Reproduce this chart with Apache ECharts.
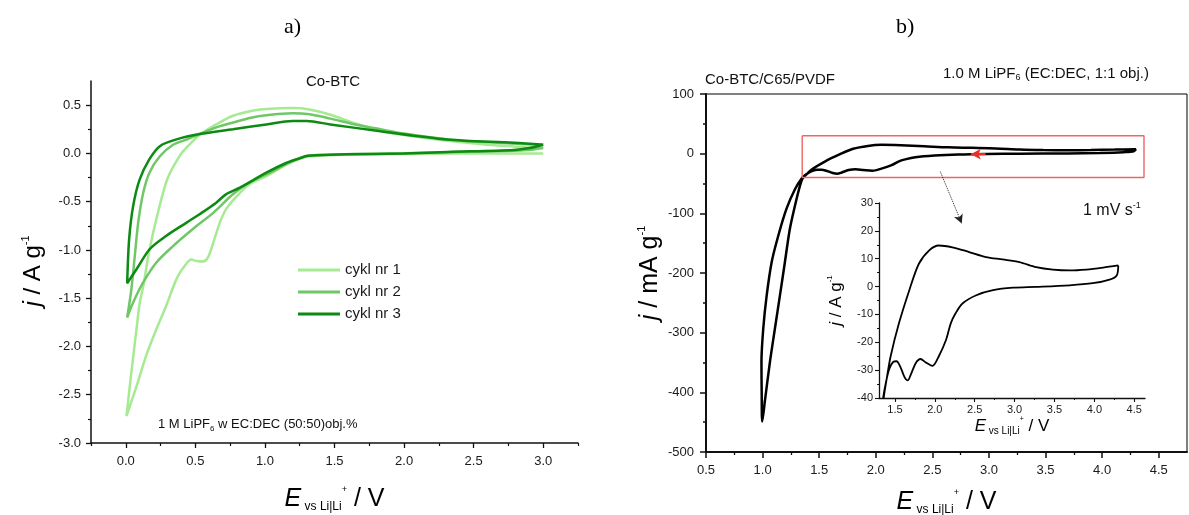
<!DOCTYPE html>
<html><head><meta charset="utf-8">
<script src="https://cdn.jsdelivr.net/npm/echarts@6/dist/echarts.min.js"></script>
<style>html,body{margin:0;padding:0;background:#fff}#c{width:1189px;height:515px}</style>
</head><body><div id="c"></div>
<script>
// ---------- Panel a) : Co-BTC, three CV cycles (E / V, j / A g-1) ----------
const cycle1E = [3.0, 2.6, 2.2, 1.8, 1.55, 1.42, 1.30, 1.156, 1.01, 0.89, 0.80, 0.72, 0.676, 0.63, 0.59, 0.555, 0.51, 0.47, 0.424, 0.365, 0.29, 0.22, 0.15, 0.08, 0.005, 0.04, 0.077, 0.10, 0.125, 0.17, 0.23, 0.30, 0.39, 0.45, 0.53, 0.65, 0.77, 0.90, 1.01, 1.2, 1.32, 1.47, 1.65, 1.83, 2.0, 2.31, 2.6, 2.8, 3.0];
const cycle1J = [0.0, 0.0, -0.003, -0.008, -0.015, -0.022, -0.035, -0.114, -0.235, -0.32, -0.44, -0.58, -0.717, -0.92, -1.08, -1.12, -1.115, -1.10, -1.165, -1.30, -1.58, -1.82, -2.08, -2.40, -2.72, -2.27, -1.82, -1.55, -1.38, -1.0, -0.62, -0.26, -0.02, 0.08, 0.19, 0.30, 0.39, 0.44, 0.46, 0.47, 0.455, 0.40, 0.31, 0.235, 0.19, 0.13, 0.09, 0.07, 0.05];
const cycle2E = [3.0, 2.9, 2.6, 2.2, 1.8, 1.5, 1.32, 1.20, 1.06, 0.89, 0.77, 0.63, 0.48, 0.34, 0.22, 0.125, 0.053, 0.01, 0.04, 0.065, 0.089, 0.125, 0.17, 0.245, 0.34, 0.44, 0.53, 0.65, 0.77, 0.90, 1.01, 1.2, 1.32, 1.47, 1.65, 1.83, 2.0, 2.31, 2.6, 2.8, 3.0];
const cycle2J = [0.06, 0.035, 0.02, 0.008, -0.003, -0.012, -0.022, -0.08, -0.183, -0.30, -0.424, -0.613, -0.786, -0.96, -1.13, -1.337, -1.544, -1.70, -1.41, -1.06, -0.72, -0.41, -0.20, -0.03, 0.09, 0.145, 0.20, 0.27, 0.32, 0.37, 0.395, 0.415, 0.405, 0.36, 0.30, 0.25, 0.205, 0.145, 0.115, 0.10, 0.09];
const cycle3E = [3.0, 2.9, 2.79, 2.31, 2.0, 1.59, 1.37, 1.30, 1.25, 1.156, 1.01, 0.82, 0.72, 0.65, 0.53, 0.437, 0.29, 0.173, 0.077, 0.01, 0.024, 0.053, 0.10, 0.17, 0.245, 0.365, 0.53, 0.77, 1.01, 1.2, 1.3, 1.47, 1.83, 2.31, 2.79, 3.0];
const cycle3J = [0.09, 0.055, 0.035, 0.015, 0.0, -0.01, -0.02, -0.028, -0.05, -0.097, -0.20, -0.355, -0.424, -0.51, -0.63, -0.717, -0.855, -0.99, -1.2, -1.345, -0.89, -0.545, -0.27, -0.06, 0.075, 0.145, 0.20, 0.25, 0.30, 0.335, 0.335, 0.30, 0.23, 0.145, 0.11, 0.09];
const cycleNames = ['cykl nr 1', 'cykl nr 2', 'cykl nr 3'];

// ---------- Panel b) : Co-BTC/C65/PVDF (E / V, j / mA g-1) ----------
const cvbE = [4.30, 4.28, 4.19, 3.98, 3.69, 3.27, 2.98, 2.73, 2.52, 2.35, 2.26, 2.20, 2.14, 2.05, 1.97, 1.89, 1.82, 1.76, 1.70, 1.66, 1.62, 1.57, 1.52, 1.48, 1.43, 1.39, 1.35, 1.285, 1.21, 1.138, 1.08, 1.036, 1.006, 0.99, 0.992, 0.997, 1.02, 1.065, 1.109, 1.153, 1.197, 1.24, 1.285, 1.33, 1.355, 1.40, 1.446, 1.55, 1.68, 1.80, 1.93, 2.05, 2.22, 2.43, 2.64, 2.85, 3.06, 3.27, 3.48, 3.69, 3.90, 4.11, 4.30];
const cvbJ = [7.6, 4.0, 2.5, 1.2, 0.46, -0.1, -0.4, -1.3, -3.1, -6.0, -9.6, -13.2, -19.2, -25.0, -28.5, -27.3, -26.0, -27.5, -31.5, -33.7, -32.5, -29.0, -26.8, -27.0, -29.5, -34.0, -40.5, -60, -93, -138, -182, -238, -293, -349, -400, -449, -415, -349, -293, -238, -182, -127, -88, -54, -41, -32.5, -25, -13.2, -1.3, 8.2, 13.0, 14.75, 14.1, 12.4, 10.6, 9.75, 8.8, 7.0, 6.1, 5.8, 6.1, 6.8, 7.6];
// zoom window (red box) and pointer arrow, in data units of panel b
const boxE = [1.35, 4.37, 4.37, 1.35, 1.35];
const boxJ = [30, 30, -40, -40, 30];
const pointerFrom = [2.57, -30], pointerTo = [2.76, -117];
const scanArrowFrom = [2.97, -0.8], scanArrowTo = [2.84, -0.8];

// ---------- tick values ----------
const aXMajor = [0, 0.5, 1.0, 1.5, 2.0, 2.5, 3.0];
const aXMinor = [-0.25, 0.25, 0.75, 1.25, 1.75, 2.25, 2.75, 3.25];
const aYMajor = [-3.0, -2.5, -2.0, -1.5, -1.0, -0.5, 0.0, 0.5];
const aYMinor = [-2.75, -2.25, -1.75, -1.25, -0.75, -0.25, 0.25];
const bXMajor = [0.5, 1.0, 1.5, 2.0, 2.5, 3.0, 3.5, 4.0, 4.5];
const bXMinor = [0.75, 1.25, 1.75, 2.25, 2.75, 3.25, 3.75, 4.25];
const iXMajor = [1.5, 2.0, 2.5, 3.0, 3.5, 4.0, 4.5];
const iXMinor = [1.75, 2.25, 2.75, 3.25, 3.75, 4.25];

const zip = (a, b) => a.map((v, i) => [v, b[i]]);
const FF = '"Liberation Sans", Arial, sans-serif';
const BLK = '#111';

function mainAxis(grid, pos, min, max, major, opt) {
  const o = {
    type: 'value', gridIndex: grid, position: pos, min: min, max: max,
    axisLine: { show: true, onZero: false, lineStyle: { color: BLK, width: opt.lw } },
    splitLine: { show: false },
    axisTick: { show: true, length: opt.tl, lineStyle: { color: BLK, width: opt.tw } },
    axisLabel: { show: true, color: '#1a1a1a', fontFamily: FF, fontSize: opt.fs, margin: opt.margin,
                 formatter: opt.fmt },
    name: opt.name || '', nameLocation: 'middle', nameGap: opt.nameGap || 0,
    nameRotate: opt.nameRotate, nameTextStyle: opt.nameTextStyle || {}
  };
  if (major) { o.axisLabel.customValues = major; o.axisTick.customValues = major; }
  if (opt.interval) { o.interval = opt.interval; o.minorTick = { show: true, splitNumber: 2, length: opt.ml, lineStyle: { color: BLK, width: opt.tw } }; }
  return o;
}
function minorAxis(grid, pos, min, max, minor, len, w) {
  return {
    type: 'value', gridIndex: grid, position: pos, min: min, max: max,
    axisLine: { show: false, onZero: false }, splitLine: { show: false },
    axisLabel: { show: false },
    axisTick: { show: true, customValues: minor, length: len, lineStyle: { color: BLK, width: w } }
  };
}
const f1 = v => v.toFixed(1);
const f0 = v => String(Math.round(v));

function eLabel(big, small, sup, pad) {
  const lh = big + 3;
  return {
    padding: pad || 0,
    rich: {
      e: { fontFamily: FF, fontSize: big, fontStyle: 'italic', color: '#000', lineHeight: lh },
      s: { fontFamily: FF, fontSize: small, color: '#000', verticalAlign: 'bottom', lineHeight: Math.round(lh * 0.64) },
      p: { fontFamily: FF, fontSize: sup, color: '#000', verticalAlign: 'top', lineHeight: sup + 4 },
      n: { fontFamily: FF, fontSize: big, color: '#000', lineHeight: lh }
    }
  };
}
const xName = '{e|E}{s| vs Li|Li}{p|+}{n| / V}';

const option = {
  animation: false,
  backgroundColor: '#fff',
  grid: [
    { left: 91, top: 81, width: 487, height: 362, outerBoundsMode: 'none', containLabel: false },
    { left: 706, top: 94, width: 481, height: 358, outerBoundsMode: 'none', containLabel: false, show: true, borderColor: '#000', borderWidth: 1, backgroundColor: 'transparent' },
    { left: 879, top: 203, width: 266, height: 195, outerBoundsMode: 'none', containLabel: false }
  ],
  xAxis: [
    mainAxis(0, 'bottom', -0.25, 3.25, aXMajor, { lw: 1.5, tl: 5, tw: 1.3, fs: 13, margin: 12, fmt: f1,
      name: xName, nameGap: 42, nameTextStyle: eLabel(25, 12, 9) }),
    minorAxis(0, 'bottom', -0.25, 3.25, aXMinor, 3, 1.2),
    mainAxis(1, 'bottom', 0.5, 4.75, bXMajor, { lw: 2, tl: 6, tw: 1.5, fs: 13, margin: 12, fmt: f1,
      name: xName, nameGap: 36, nameTextStyle: eLabel(25, 12, 9) }),
    minorAxis(1, 'bottom', 0.5, 4.75, bXMinor, 3, 1.3),
    mainAxis(2, 'bottom', 1.3, 4.635, iXMajor, { lw: 1.3, tl: 4, tw: 1.1, fs: 11, margin: 6, fmt: f1,
      name: xName, nameGap: 13, nameTextStyle: eLabel(17, 10, 7) }),
    minorAxis(2, 'bottom', 1.3, 4.635, iXMinor, 2, 1)
  ],
  yAxis: [
    mainAxis(0, 'left', -3.0, 0.75, aYMajor, { lw: 1.5, tl: 5, tw: 1.3, fs: 13, margin: 10, fmt: f1,
      name: '{e|j}{n| / A g}{p|-1}', nameRotate: 90, nameGap: 44, nameTextStyle: eLabel(24, 12, 11, [0, 18, 0, 0]) }),
    minorAxis(0, 'left', -3.0, 0.75, aYMinor, 3, 1.2),
    mainAxis(1, 'left', -500, 100, null, { lw: 2, tl: 6, tw: 1.5, fs: 13, margin: 12, fmt: f0, interval: 100, ml: 3,
      name: '{e|j}{n| / mA g}{p|-1}', nameRotate: 90, nameGap: 42, nameTextStyle: eLabel(25, 12, 11) }),
    mainAxis(2, 'left', -40, 30, null, { lw: 1.3, tl: 4, tw: 1.1, fs: 11, margin: 6, fmt: f0, interval: 10, ml: 2,
      name: '{e|j}{n| / A g}{p|-1}', nameRotate: 90, nameGap: 33, nameTextStyle: eLabel(17, 10, 8) })
  ],
  legend: {
    data: cycleNames, orient: 'vertical', left: 298, top: 261, itemGap: 4, padding: 0,
    icon: 'rect', itemWidth: 42, itemHeight: 3,
    textStyle: { fontFamily: FF, fontSize: 15, color: '#1a1a1a', lineHeight: 18 },
    selectedMode: false
  },
  series: [
    { name: cycleNames[0], type: 'line', xAxisIndex: 0, yAxisIndex: 0, data: zip(cycle1E, cycle1J), showSymbol: false, smooth: 0.3, color: '#a6ea92', lineStyle: { width: 2.5, color: '#a6ea92' } },
    { name: cycleNames[1], type: 'line', xAxisIndex: 0, yAxisIndex: 0, data: zip(cycle2E, cycle2J), showSymbol: false, smooth: 0.3, color: '#6fc767', lineStyle: { width: 2.5, color: '#6fc767' } },
    { name: cycleNames[2], type: 'line', xAxisIndex: 0, yAxisIndex: 0, data: zip(cycle3E, cycle3J), showSymbol: false, smooth: 0.3, color: '#0c8a12', lineStyle: { width: 2.5, color: '#0c8a12' } },
    { name: 'CV b', type: 'line', xAxisIndex: 2, yAxisIndex: 2, data: zip(cvbE, cvbJ), showSymbol: false, smooth: 0.3, lineStyle: { width: 2.5, color: '#000' },
      markLine: { silent: true, symbol: ['none', 'arrow'], symbolSize: [8, 10], label: { show: false },
        lineStyle: { color: '#e8302a', width: 2, type: 'solid' },
        data: [[{ coord: scanArrowFrom }, { coord: scanArrowTo }]] } },
    { name: 'box', type: 'line', xAxisIndex: 2, yAxisIndex: 2, data: zip(boxE, boxJ), showSymbol: false, lineStyle: { width: 1.4, color: '#ef6464' },
      markLine: { silent: true, symbol: ['none', 'arrow'], symbolSize: [7, 9], label: { show: false },
        lineStyle: { color: '#222', width: 1, type: 'dotted' },
        data: [[{ coord: pointerFrom }, { coord: pointerTo }]] } },
    { name: 'CV inset', type: 'line', xAxisIndex: 4, yAxisIndex: 3, data: zip(cvbE, cvbJ), showSymbol: false, smooth: 0.3, lineStyle: { width: 1.8, color: '#000' } }
  ],
  graphic: [
    { type: 'text', left: 284, top: 16, style: { text: 'a)', font: '22px "Liberation Serif", "Times New Roman", serif', fill: '#000' } },
    { type: 'text', left: 896, top: 16, style: { text: 'b)', font: '22px "Liberation Serif", "Times New Roman", serif', fill: '#000' } },
    { type: 'text', left: 306, top: 74, style: { text: 'Co-BTC', font: '15px ' + FF, fill: '#111' } },
    { type: 'text', left: 158, top: 418, style: { text: '{a|1 M LiPF}{b|6}{a| w EC:DEC (50:50)obj.%}',
      rich: { a: { fontFamily: FF, fontSize: 13, fill: '#111', lineHeight: 16 }, b: { fontFamily: FF, fontSize: 8, fill: '#111', verticalAlign: 'bottom', lineHeight: 9 } } } },
    { type: 'text', left: 705, top: 72, style: { text: 'Co-BTC/C65/PVDF', font: '15px ' + FF, fill: '#111' } },
    { type: 'text', left: 943, top: 66, style: { text: '{a|1.0 M LiPF}{b|6}{a| (EC:DEC, 1:1 obj.)}',
      rich: { a: { fontFamily: FF, fontSize: 15, fill: '#111', lineHeight: 18 }, b: { fontFamily: FF, fontSize: 9, fill: '#111', verticalAlign: 'bottom', lineHeight: 10 } } } },
    { type: 'text', left: 1083, top: 201, style: { text: '{a|1 mV s}{b|-1}',
      rich: { a: { fontFamily: FF, fontSize: 16, fill: '#111', lineHeight: 20 }, b: { fontFamily: FF, fontSize: 9, fill: '#111', verticalAlign: 'top', lineHeight: 10 } } } }
  ]
};
const chart = echarts.init(document.getElementById('c'), null, { renderer: 'canvas' });
chart.setOption(option);
</script></body></html>
